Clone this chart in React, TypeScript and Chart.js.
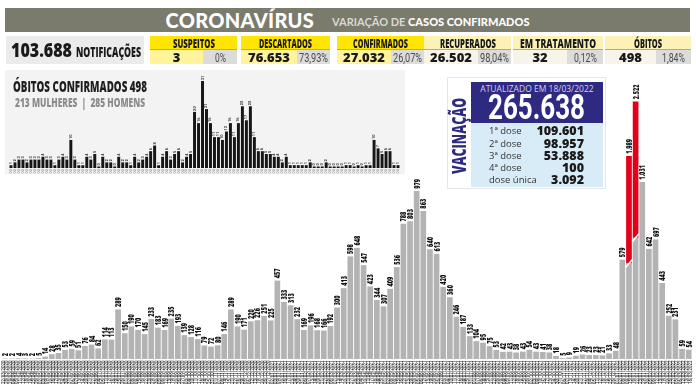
import React, { useEffect, useRef } from "react";
import { Chart, registerables } from "chart.js";
Chart.register(...registerables);

// ---------- DATA ----------
const WEEKS_2020 = [
  "22/03-28/03","29/03-04/04","05/04-11/04","12/04-18/04","19/04-25/04","26/04-02/05","03/05-09/05","10/05-16/05",
  "17/05-23/05","24/05-30/05","31/05-06/06","07/06-13/06","14/06-20/06","21/06-27/06","28/06-04/07","05/07-11/07",
  "12/07-18/07","19/07-25/07","26/07-01/08","02/08-08/08","09/08-15/08","16/08-22/08","23/08-29/08","30/08-05/09",
  "06/09-12/09","13/09-19/09","20/09-26/09","27/09-03/10","04/10-10/10","11/10-17/10","18/10-24/10","25/10-31/10",
  "01/11-07/11","08/11-14/11","15/11-21/11","22/11-28/11","29/11-05/12","06/12-12/12","13/12-19/12","20/12-26/12",
  "27/12-02/01",
];
const WEEKS_2021 = [
  "03/01-09/01","10/01-16/01","17/01-23/01","24/01-30/01","31/01-06/02","07/02-13/02","14/02-20/02","21/02-27/02",
  "28/02-06/03","07/03-13/03","14/03-20/03","21/03-27/03","28/03-03/04","04/04-10/04","11/04-17/04","18/04-24/04",
  "25/04-01/05","02/05-08/05","09/05-15/05","16/05-22/05","23/05-29/05","30/05-05/06","06/06-12/06","13/06-19/06",
  "20/06-26/06","27/06-03/07","04/07-10/07","11/07-17/07","18/07-24/07","25/07-31/07","01/08-07/08","08/08-14/08",
  "15/08-21/08","22/08-28/08","29/08-04/09","05/09-11/09","12/09-18/09","19/09-25/09","26/09-02/10","03/10-09/10",
  "10/10-16/10","17/10-23/10","24/10-30/10","31/10-06/11","07/11-13/11","14/11-20/11","21/11-27/11","28/11-04/12",
  "05/12-11/12","12/12-18/12","19/12-25/12","26/12-01/01",
];
const WEEKS_2022 = [
  "02/01-08/01","09/01-15/01","16/01-22/01","23/01-29/01","30/01-05/02","06/02-12/02","13/02-19/02","20/02-26/02",
  "27/02-05/03","06/03-12/03","13/03-18/03",
];

const CASES = [
  2, 2, 4, 3, 2, 5, 14, 28, 35, 53, 59, 51, 76, 84, 62, 114, 113,
  289, 150, 190, 170, 145, 233, 183, 169, 235, 193, 139, 128, 116, 79, 72, 80, 146,
  289, 190, 171, 220, 226, 251, 225, 457, 333, 313, 232, 169, 196, 168, 166, 192,
  300, 413, 598, 648, 547, 423, 344, 307, 409, 536, 788, 803, 979, 863, 640, 613, 420, 360, 246, 187, 133, 104, 95, 75,
  53, 42, 43, 38, 43, 54, 43, 41, 38, 18, 5, 9, 19, 26, 23, 23, 21, 33, 48,
  579, 1989, 2522, 1031, 642, 697, 443, 252, 231, 59, 54,
];

const DEATHS = [
  1, 2, 3, 3, 2, 3, 3, 3, 4, 3, 3, 1, 3, 4, 3, 10, 3, 1, 1, 4, 3, 5, 0, 4, 2, 2, 0, 4, 2, 2, 1, 4, 2, 3, 4, 6, 8, 1, 4, 6, 3, 5, 6, 2, 4, 5,
  20, 16, 31, 21, 16, 11, 11, 10, 13, 16, 11, 16, 22, 17, 22, 11,
  6, 6, 5, 5, 4, 4, 2, 4, 1, 1, 1, 1, 1, 2, 0, 0, 0, 2, 0, 0, 0, 0, 1, 1, 0, 1, 0,
  1, 1, 10, 7, 5, 6, 6, 1, 1,
];

const NOTIFICATIONS = "103.688";
const STAT_LABELS = ["SUSPEITOS", "DESCARTADOS", "CONFIRMADOS", "RECUPERADOS", "EM TRATAMENTO", "ÓBITOS"];
const STAT_VALUES = ["3", "76.653", "27.032", "26.502", "32", "498"];
const STAT_PCTS = ["0%", "73,93%", "26,07%", "98,04%", "0,12%", "1,84%"];

const DEATH_TOTAL = "498";
const DEATH_WOMEN = "213";
const DEATH_MEN = "285";

const VACCINE_DATE = "18/03/2022";
const VACCINE_TOTAL = "265.638";
const DOSE_LABELS = ["1ª dose", "2ª dose", "3ª dose", "4ª dose", "dose única"];
const DOSE_VALUES = ["109.601", "98.957", "53.888", "100", "3.092"];

// ---------- HELPERS ----------
const COND = "Roboto, 'Liberation Sans', sans-serif";
const HEAVY = "'Open Sans', Roboto, sans-serif";

function buildLabels(list: string[], year: number) {
  return list.map((w) => {
    const [a, b] = w.split("-");
    const endYear = Number(b.slice(3)) < Number(a.slice(3)) ? year + 1 : year;
    return [`${a}/${year}`, `${b}/${endYear}`];
  });
}
const WEEK_LABELS = [
  ...buildLabels(WEEKS_2020, 2020),
  ...buildLabels(WEEKS_2021, 2021),
  ...buildLabels(WEEKS_2022, 2022),
];

function fmt(v: number) {
  return String(Math.round(v)).replace(/\B(?=(\d{3})+(?!\d))/g, ".");
}

let measureCtx: CanvasRenderingContext2D | null = null;
function textWidth(text: string, font: string) {
  if (!measureCtx) measureCtx = document.createElement("canvas").getContext("2d");
  measureCtx!.font = font;
  return measureCtx!.measureText(text).width;
}

type FitProps = {
  text: string;
  font: string;
  width: number;
  left: number;
  top: number;
  color: string;
  lh: number;
};
function Fit({ text, font, width, left, top, color, lh }: FitProps) {
  const k = width / textWidth(text, font);
  return (
    <div
      style={{
        position: "absolute", left, top, font, lineHeight: `${lh}px`, color, whiteSpace: "pre",
        transform: `scaleX(${k})`, transformOrigin: "0 0",
      }}
    >
      {text}
    </div>
  );
}

// axis break for the bars that don't fit
const AXIS_BREAK = 1500;
const BREAK_SHOW = 0.595;
const BREAK_GRAY = 0.28;
const grayPart = CASES.map((v) => (v > AXIS_BREAK ? v * BREAK_GRAY : v));
const redPart = CASES.map((v) => (v > AXIS_BREAK ? v * (BREAK_SHOW - BREAK_GRAY) : 0));

// ---------- MAIN CHART ----------
function MainChart() {
  const ref = useRef<HTMLCanvasElement>(null);
  useEffect(() => {
    const labelsPlugin = {
      id: "mainLabels",
      afterDatasetsDraw(chart: any) {
        const ctx = chart.ctx;
        const m0 = chart.getDatasetMeta(0);
        const m1 = chart.getDatasetMeta(1);
        const area = chart.chartArea;
        ctx.save();
        CASES.forEach((v, i) => {
          if (redPart[i] > 0) {
            const b = m1.data[i];
            const half = b.width / 2 + 0.5;
            ctx.strokeStyle = "#ffffff";
            ctx.lineWidth = 1.6;
            ctx.beginPath();
            ctx.moveTo(b.x - half, b.base + 4);
            ctx.lineTo(b.x + half, b.base - 4);
            ctx.stroke();
          }
        });
        CASES.forEach((v, i) => {
          const bar = m0.data[i];
          const top = redPart[i] > 0 ? m1.data[i].y : bar.y;
          const text = fmt(v);
          ctx.save();
          ctx.translate(bar.x, top - 1.5);
          ctx.rotate(-Math.PI / 2);
          ctx.scale(0.66, 1);
          ctx.font = `800 8.5px ${HEAVY}`;
          const w = ctx.measureText(text).width;
          ctx.fillStyle = "#ffffff";
          ctx.fillRect(0, -3.4, w + 2.5, 6.8);
          ctx.fillStyle = "#111111";
          ctx.textAlign = "left";
          ctx.textBaseline = "middle";
          ctx.fillText(text, 1.2, 0.6);
          ctx.restore();
        });
        WEEK_LABELS.forEach((lines, i) => {
          const bar = m0.data[i];
          ctx.save();
          ctx.translate(bar.x, area.bottom + 1.5);
          ctx.rotate(-Math.PI / 2);
          ctx.scale(0.88, 1);
          ctx.font = `500 5px ${COND}`;
          ctx.fillStyle = "#2a2a2a";
          ctx.textAlign = "right";
          ctx.textBaseline = "middle";
          ctx.fillText(lines[0], 0, -1.5);
          ctx.fillText(lines[1], 0, 1.8);
          ctx.restore();
        });
        ctx.restore();
      },
    };
    const chart = new Chart(ref.current!, {
      type: "bar",
      data: {
        labels: WEEK_LABELS.map((l) => l[0]),
        datasets: [
          { data: grayPart, backgroundColor: "#b3b3b3", borderWidth: 0, barPercentage: 0.86, categoryPercentage: 1 },
          { data: redPart, backgroundColor: "#e2001a", borderWidth: 0, barPercentage: 0.86, categoryPercentage: 1 },
        ],
      },
      options: {
        responsive: false,
        animation: false,
        devicePixelRatio: 1,
        layout: { padding: { top: 31, bottom: 26, left: 2, right: 4 } },
        plugins: { legend: { display: false }, tooltip: { enabled: false } },
        scales: {
          x: { display: false, stacked: true },
          y: { display: false, stacked: true, min: 0, max: 1562 },
        },
      },
      plugins: [labelsPlugin],
    });
    return () => chart.destroy();
  }, []);
  return (
    <canvas
      ref={ref}
      width={696}
      height={325}
      style={{ position: "absolute", left: 0, top: 60, width: 696, height: 325 }}
    />
  );
}

// ---------- DEATHS INSET ----------
function DeathsChart() {
  const ref = useRef<HTMLCanvasElement>(null);
  useEffect(() => {
    const plugin = {
      id: "deathLabels",
      afterDatasetsDraw(chart: any) {
        const ctx = chart.ctx;
        const m = chart.getDatasetMeta(0);
        const area = chart.chartArea;
        ctx.save();
        DEATHS.forEach((v, i) => {
          const b = m.data[i];
          ctx.save();
          ctx.translate(b.x, b.y - 1);
          ctx.rotate(-Math.PI / 2);
          ctx.font = `bold 4px ${COND}`;
          ctx.fillStyle = "#333";
          ctx.textAlign = "left";
          ctx.textBaseline = "middle";
          ctx.fillText(String(v), 0, 0);
          ctx.restore();
          ctx.save();
          ctx.translate(b.x, area.bottom + 1.2);
          ctx.rotate(-Math.PI / 2);
          ctx.font = `3.8px ${COND}`;
          ctx.fillStyle = "#888";
          ctx.textAlign = "right";
          ctx.textBaseline = "middle";
          ctx.fillText("00", 0, 0);
          ctx.restore();
        });
        ctx.restore();
      },
    };
    const chart = new Chart(ref.current!, {
      type: "bar",
      data: {
        labels: DEATHS.map((_, i) => String(i + 1)),
        datasets: [
          { data: DEATHS, backgroundColor: "#161616", borderWidth: 0, barPercentage: 0.74, categoryPercentage: 1, minBarLength: 1.5 },
        ],
      },
      options: {
        responsive: false,
        animation: false,
        devicePixelRatio: 1,
        layout: { padding: { top: 4, bottom: 6, left: 4, right: 5 } },
        plugins: { legend: { display: false }, tooltip: { enabled: false } },
        scales: {
          x: { display: false },
          y: { display: false, min: 0, max: 33.5 },
        },
      },
      plugins: [plugin],
    });
    return () => chart.destroy();
  }, []);
  return (
    <canvas
      ref={ref}
      width={400}
      height={104}
      style={{ position: "absolute", left: 5, top: 70, width: 400, height: 104 }}
    />
  );
}

// ---------- LAYOUT ----------
const CELL_X = [150, 241, 337, 424, 513, 605];
const CELL_W = [87, 89, 87, 87, 90, 86];
const CELL_SPLIT = [53, 56, 54, 54, 54, 51];
const HEAD_W = [42, 53, 55, 56, 76, 28];
const PCT_W = [11, 29, 29, 29, 23, 23];

function StatsRow() {
  const headFont = `800 12.5px ${HEAVY}`;
  const pctFont = `400 12px ${COND}`;
  return (
    <>
      <div style={{ position: "absolute", left: 6, top: 36, width: 138, height: 28, background: "#ebebeb" }} />
      <Fit text={NOTIFICATIONS} font={`800 19px ${HEAVY}`} width={61} left={11} top={39} color="#1a1a1a" lh={22} />
      <Fit text="NOTIFICAÇÕES" font={`800 14px ${HEAVY}`} width={65} left={76} top={43} color="#1a1a1a" lh={17} />
      {STAT_LABELS.map((lab, i) => {
        const strong = i < 3;
        return (
          <React.Fragment key={lab}>
            <div
              style={{
                position: "absolute", left: CELL_X[i], top: 36, width: CELL_W[i], height: 14,
                background: strong ? "#ffe500" : "#fdf2b6", borderBottom: "1px solid #c9b800", boxSizing: "border-box",
              }}
            />
            <Fit
              text={lab} font={headFont} width={HEAD_W[i]}
              left={CELL_X[i] + (CELL_W[i] - HEAD_W[i]) / 2} top={35.5} color="#1a1a1a" lh={15}
            />
            <div
              style={{
                position: "absolute", left: CELL_X[i], top: 50, width: CELL_SPLIT[i], height: 14,
                background: strong ? "#fff39b" : "#f7f5ea", textAlign: "center",
                fontFamily: "'Open Sans',sans-serif", fontWeight: 800, fontSize: 13, lineHeight: "14px", color: "#1a1a1a",
              }}
            >
              {STAT_VALUES[i]}
            </div>
            <div
              style={{
                position: "absolute", left: CELL_X[i] + CELL_SPLIT[i], top: 50, width: CELL_W[i] - CELL_SPLIT[i], height: 14,
                background: "#dcdcdc",
              }}
            />
            <Fit
              text={STAT_PCTS[i]} font={pctFont} width={PCT_W[i]}
              left={CELL_X[i] + CELL_SPLIT[i] + (CELL_W[i] - CELL_SPLIT[i] - PCT_W[i]) / 2} top={50.5} color="#4a4a4a" lh={14}
            />
          </React.Fragment>
        );
      })}
    </>
  );
}

function Vaccine() {
  const rowsTop = [124, 136.5, 149, 161, 173];
  const vacFont = `800 20px ${HEAVY}`;
  const vk = 76 / textWidth("VACINAÇÃO", vacFont);
  const totFont = `700 35px ${COND}`;
  const tk = 97 / textWidth(VACCINE_TOTAL, totFont);
  return (
    <div style={{ position: "absolute", left: 447, top: 77, width: 159, height: 112, background: "#fff", border: "1px solid #e6e6e6", boxSizing: "border-box" }}>
      <div
        style={{
          position: "absolute", left: 0, top: 96, font: vacFont, lineHeight: "21px", color: "#2d2a80", whiteSpace: "nowrap",
          transformOrigin: "0 0", transform: `rotate(-90deg) scaleX(${vk})`,
        }}
      >
        VACINAÇÃO
      </div>
      <div style={{ position: "absolute", left: 23, top: 4, width: 132, height: 41, background: "#2e2a82" }}>
        <div style={{ textAlign: "center", fontFamily: "'Open Sans',sans-serif", fontSize: 8.5, color: "#cfd0f2", marginTop: 2, lineHeight: "10px" }}>
          ATUALIZADO EM {VACCINE_DATE}
        </div>
        <div
          style={{
            position: "absolute", left: 17, top: 8, font: totFont, lineHeight: "35px", color: "#fff", whiteSpace: "nowrap",
            transformOrigin: "0 0", transform: `scaleX(${tk})`,
          }}
        >
          {VACCINE_TOTAL}
        </div>
      </div>
      <div style={{ position: "absolute", left: 23, top: 45, width: 132, height: 64, background: "#d8ecf8" }}>
        {DOSE_LABELS.map((d, i) => (
          <React.Fragment key={d}>
            <div style={{ position: "absolute", left: 18, top: rowsTop[i] - 122, fontFamily: "'Open Sans',sans-serif", fontSize: 9.5, color: "#333", lineHeight: "12px" }}>
              {d}
            </div>
            <div style={{ position: "absolute", right: 19, top: rowsTop[i] - 123, fontFamily: "'Open Sans',sans-serif", fontWeight: 800, fontSize: 12.5, color: "#1a1a1a", lineHeight: "13px" }}>
              {DOSE_VALUES[i]}
            </div>
          </React.Fragment>
        ))}
      </div>
    </div>
  );
}

export default function App() {
  const title = `ÓBITOS CONFIRMADOS ${DEATH_TOTAL}`;
  const sub = `${DEATH_WOMEN} MULHERES  |  ${DEATH_MEN} HOMENS`;
  return (
    <div style={{ position: "absolute", left: 0, top: 0, width: 696, height: 385, background: "#fff", overflow: "hidden" }}>
      <MainChart />
      <div style={{ position: "absolute", left: 5, top: 70, width: 400, height: 104, background: "#f3f3f3" }} />
      <DeathsChart />
      <Fit text={title} font={`800 15px ${HEAVY}`} width={134} left={13} top={77} color="#1e1e1e" lh={18} />
      <Fit text={sub} font={`800 12.5px ${HEAVY}`} width={130} left={15} top={95} color="#8c8c8c" lh={16} />
      <div
        style={{
          position: "absolute", left: 5, top: 8, width: 685, height: 24, background: "#7a7a6d",
          display: "flex", alignItems: "center", justifyContent: "center", gap: 18, whiteSpace: "nowrap",
        }}
      >
        <span style={{ fontFamily: "Lato,sans-serif", fontWeight: 900, fontSize: 20, color: "#fff", letterSpacing: 0.3 }}>CORONAVÍRUS</span>
        <span style={{ fontFamily: "Lato,sans-serif", fontWeight: 700, fontSize: 11, color: "#d9d9d2", marginTop: 3 }}>
          VARIAÇÃO DE <span style={{ color: "#fff", fontWeight: 900 }}>CASOS CONFIRMADOS</span>
        </span>
      </div>
      <StatsRow />
      <Vaccine />
    </div>
  );
}
